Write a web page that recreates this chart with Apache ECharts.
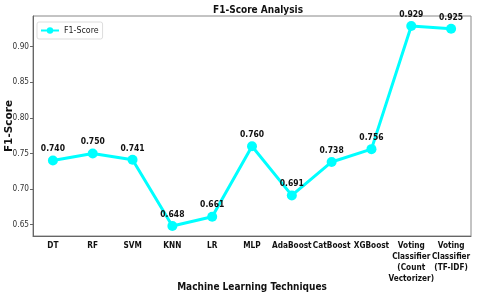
<!DOCTYPE html>
<html><head><meta charset="utf-8">
<script src="https://cdn.jsdelivr.net/npm/echarts@6/dist/echarts.min.js"></script>
<style>html,body{margin:0;padding:0;background:#fff}#c{width:480px;height:300px}</style>
</head><body><div id="c"></div>
<script>
const categories = ["DT","RF","SVM","KNN","LR","MLP","AdaBoost","CatBoost","XGBoost","Voting\nClassifier\n(Count\nVectorizer)","Voting\nClassifier\n(TF-IDF)"];
const f1Scores = [0.740,0.750,0.741,0.648,0.661,0.760,0.691,0.738,0.756,0.929,0.925];
const yTicks = [0.65,0.70,0.75,0.80,0.85,0.90];
const FF = "'DejaVu Sans Condensed', 'DejaVu Sans', sans-serif";
const chart = echarts.init(document.getElementById('c'), null, {renderer:'canvas'});
chart.setOption({
  animation:false,
  title:{text:'F1-Score Analysis',left:253,top:0,textAlign:'center',textStyle:{fontFamily:FF,fontSize:10,fontWeight:'bold',color:'#111'}},
  legend:{data:['F1-Score'],left:37,top:22,orient:'vertical',itemWidth:18,itemHeight:8,padding:[4,4,4,3],itemGap:4,
    borderColor:'#ddd',borderWidth:1,borderRadius:2,backgroundColor:'#fff',
    textStyle:{fontFamily:FF,fontSize:8.8,color:'#222'}},
  grid:{left:33,right:9,top:16,bottom:64,show:true,borderColor:'#888',borderWidth:1,outerBoundsMode:'none',containLabel:false},
  xAxis:{type:'category',data:categories,boundaryGap:true,
    name:'Machine Learning Techniques',nameLocation:'middle',nameGap:46,nameMoveOverlap:false,
    nameTextStyle:{fontFamily:FF,fontSize:10,fontWeight:'bold',color:'#111'},
    axisLine:{lineStyle:{color:'#666',width:1}},
    axisTick:{alignWithLabel:true,length:3,lineStyle:{color:'#666'}},
    axisLabel:{interval:0,margin:5,fontFamily:FF,fontSize:8.2,fontWeight:'bold',color:'#111',lineHeight:10.7}},
  yAxis:{type:'value',min:0.634,max:0.943,
    name:'F1-Score',nameLocation:'middle',nameGap:18,nameRotate:90,nameMoveOverlap:false,
    nameTextStyle:{fontFamily:"'DejaVu Sans', sans-serif",fontSize:10.5,fontWeight:'bold',color:'#111'},
    axisLine:{show:true,lineStyle:{color:'#666',width:1}},
    splitLine:{show:false},
    axisLabel:{fontFamily:FF,fontSize:8.2,color:'#333',margin:4,
      customValues:yTicks,formatter:v=>v.toFixed(2)},
    axisTick:{show:true,length:3,customValues:yTicks,lineStyle:{color:'#666'}}},
  series:[{name:'F1-Score',type:'line',data:f1Scores,color:'#00FFFF',
    lineStyle:{width:3,color:'#00FFFF'},symbol:'circle',symbolSize:10,
    itemStyle:{color:'#00FFFF'},
    label:{show:true,position:'top',distance:2,formatter:p=>p.value.toFixed(3),
      fontFamily:FF,fontSize:8.5,fontWeight:'bold',color:'#111'}}]
});
</script></body></html>
